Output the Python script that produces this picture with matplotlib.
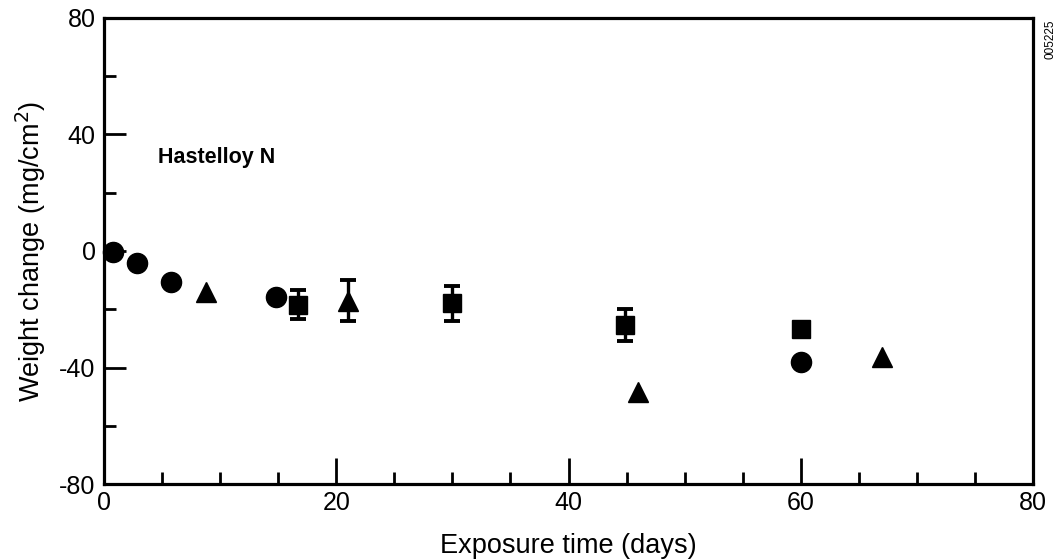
import numpy as np
import matplotlib
matplotlib.use('Agg')
import matplotlib.pyplot as plt

plt.rcParams['font.family'] = ['Liberation Sans', 'DejaVu Sans']
plt.rcParams['axes.unicode_minus'] = False

# data
circle_x = np.array([0.8, 2.8, 5.8, 14.8, 60.0])
circle_y = np.array([-0.3, -4.0, -10.7, -15.8, -38.0])

square_x = np.array([16.7, 30.0, 44.9, 60.0])
square_y = np.array([-18.5, -18.0, -25.5, -26.8])
square_err = np.array([5.0, 6.0, 5.5, 0.0])

tri_x = np.array([8.8, 21.0, 46.0, 67.0])
tri_y = np.array([-14.0, -17.0, -48.4, -36.4])
tri_err = np.array([0.0, 7.0, 0.0, 0.0])

x_ticks = [0, 20, 40, 60, 80]
y_ticks = [-80, -40, 0, 40, 80]

fig = plt.figure(figsize=(10.57, 5.6), dpi=100)
ax = fig.add_axes([0.0984, 0.1357, 0.8789, 0.8322])

# error bars only where there is a spread
m = square_err > 0
ax.errorbar(square_x[m], square_y[m], yerr=square_err[m], fmt='none',
            ecolor='black', elinewidth=2.4, capsize=5.5, capthick=2.8)
m = tri_err > 0
ax.errorbar(tri_x[m], tri_y[m], yerr=tri_err[m], fmt='none',
            ecolor='black', elinewidth=2.4, capsize=5.5, capthick=2.8)

ax.plot(circle_x, circle_y, 'o', color='black', ms=14.5, clip_on=False, zorder=3)
ax.plot(square_x, square_y, 's', color='black', ms=13, zorder=3)
ax.plot(tri_x, tri_y, '^', color='black', ms=14.5, zorder=3)

ax.set_xlim(0, 80)
ax.set_ylim(-80, 80)
ax.set_xticks(x_ticks)
ax.set_xticks(np.arange(0, 81, 5), minor=True)
ax.set_yticks(y_ticks)
ax.set_yticks(np.arange(-80, 81, 20), minor=True)
ax.tick_params(axis='x', which='major', direction='in', length=19, width=2,
               labelsize=18, pad=5)
ax.tick_params(axis='x', which='minor', direction='in', length=8.5, width=2)
ax.tick_params(axis='y', which='major', direction='in', length=16, width=2,
               labelsize=18, pad=6)
ax.tick_params(axis='y', which='minor', direction='in', length=8.5, width=2)
for s in ax.spines.values():
    s.set_linewidth(2.3)

ax.set_xlabel('Exposure time (days)', fontsize=19.5, labelpad=13)
ax.set_ylabel('Weight change (mg/cm$^2$)', fontsize=19.5, labelpad=8)

ax.text(4.65, 32, 'Hastelloy N', fontsize=15.5, fontweight='bold', va='center')
fig.text(0.9935, 0.93, '005225', rotation=90, fontsize=8.5, ha='center', va='center')

fig.savefig('out.png', dpi=100)
